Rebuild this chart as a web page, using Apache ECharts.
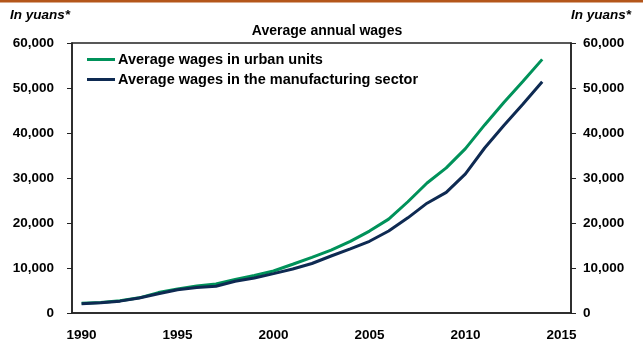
<!DOCTYPE html>
<html>
<head>
<meta charset="utf-8">
<script src="https://cdn.jsdelivr.net/npm/echarts@6/dist/echarts.min.js"></script>
<style>
  html, body { margin: 0; padding: 0; background: #fff; }
  #chart { width: 643px; height: 342px; }
</style>
</head>
<body>
<div id="chart"></div>
<script>
// Average annual wages in China, yuan
const years = [1990, 1991, 1992, 1993, 1994, 1995, 1996, 1997, 1998, 1999,
               2000, 2001, 2002, 2003, 2004, 2005, 2006, 2007, 2008, 2009,
               2010, 2011, 2012, 2013, 2014];
const urbanWages = [2140, 2340, 2711, 3371, 4538, 5348, 5980, 6444, 7446, 8319,
                    9333, 10834, 12373, 13969, 15920, 18200, 20856, 24721, 28898, 32244,
                    36539, 41799, 46769, 51483, 56360];
const manufacturingWages = [2073, 2289, 2635, 3348, 4283, 5169, 5642, 5933, 7064, 7794,
                            8750, 9774, 11001, 12671, 14251, 15934, 18225, 21144, 24404, 26810,
                            30916, 36665, 41650, 46431, 51369];
const yearTicks = [1990, 1995, 2000, 2005, 2010, 2015];
const seriesNames = ['Average wages in urban units', 'Average wages in the manufacturing sector'];

const FONT = '"Liberation Sans", Arial, sans-serif';
const AXIS_COLOR = '#222';

const chart = echarts.init(document.getElementById('chart'), null, { renderer: 'canvas' });

const pairs = arr => years.map((y, i) => [y, arr[i]]);
const fmt = v => v === 0 ? '0' : v.toLocaleString('en-US');

const yAxisCommon = {
  type: 'value',
  min: 0,
  max: 60000,
  interval: 10000,
  axisLine: { show: true, lineStyle: { color: AXIS_COLOR, width: 1.5 } },
  axisTick: { show: true, inside: false, length: 5, lineStyle: { color: AXIS_COLOR, width: 1 } },
  splitLine: { show: false },
  axisLabel: {
    fontFamily: FONT, fontWeight: 'bold', fontSize: 13.5, color: '#000',
    formatter: fmt
  }
};

chart.setOption({
  animation: false,
  backgroundColor: '#fff',
  graphic: [
    { type: 'rect', left: 0, top: 0, shape: { width: 643, height: 2.5 }, style: { fill: '#B4561A' } },
    { type: 'text', left: 10, top: 8, style: { text: 'In yuans*', font: 'italic bold 13.5px ' + FONT, fill: '#000' } },
    { type: 'text', right: 12, top: 8, style: { text: 'In yuans*', font: 'italic bold 13.5px ' + FONT, fill: '#000' } }
  ],
  title: {
    text: 'Average annual wages',
    left: 322,
    textAlign: 'center',
    top: 19,
    textStyle: { fontFamily: FONT, fontWeight: 'bold', fontSize: 14, color: '#000' }
  },
  legend: {
    orient: 'vertical',
    left: 82,
    top: 47,
    itemWidth: 28,
    itemHeight: 3,
    itemGap: 5,
    icon: 'rect',
    textStyle: { fontFamily: FONT, fontWeight: 'bold', fontSize: 14.5, color: '#000', padding: [0, 0, 0, -2] },
    data: seriesNames
  },
  grid: {
    left: 72, right: 72, top: 43, bottom: 29,
    show: true, borderColor: AXIS_COLOR, borderWidth: 1.5, backgroundColor: 'transparent'
  },
  xAxis: {
    type: 'value',
    min: 1989.5,
    max: 2015.5,
    axisLine: { show: true, onZero: false, lineStyle: { color: AXIS_COLOR, width: 1.5 } },
    axisTick: { show: false },
    splitLine: { show: false },
    axisLabel: {
      customValues: yearTicks,
      margin: 15,
      fontFamily: FONT, fontWeight: 'bold', fontSize: 13.5, color: '#000',
      formatter: v => String(v)
    }
  },
  yAxis: [
    Object.assign({}, yAxisCommon, { position: 'left', axisLabel: Object.assign({}, yAxisCommon.axisLabel, { margin: 18 }) }),
    Object.assign({}, yAxisCommon, { position: 'right', axisLabel: Object.assign({}, yAxisCommon.axisLabel, { margin: 12 }) })
  ],
  series: [
    {
      name: seriesNames[0],
      type: 'line',
      data: pairs(urbanWages),
      symbol: 'none',
      lineStyle: { color: '#00925A', width: 3 },
      itemStyle: { color: '#00925A' },
      z: 2
    },
    {
      name: seriesNames[1],
      type: 'line',
      data: pairs(manufacturingWages),
      symbol: 'none',
      lineStyle: { color: '#0E2A52', width: 3 },
      itemStyle: { color: '#0E2A52' },
      z: 3
    }
  ]
});
</script>
</body>
</html>
